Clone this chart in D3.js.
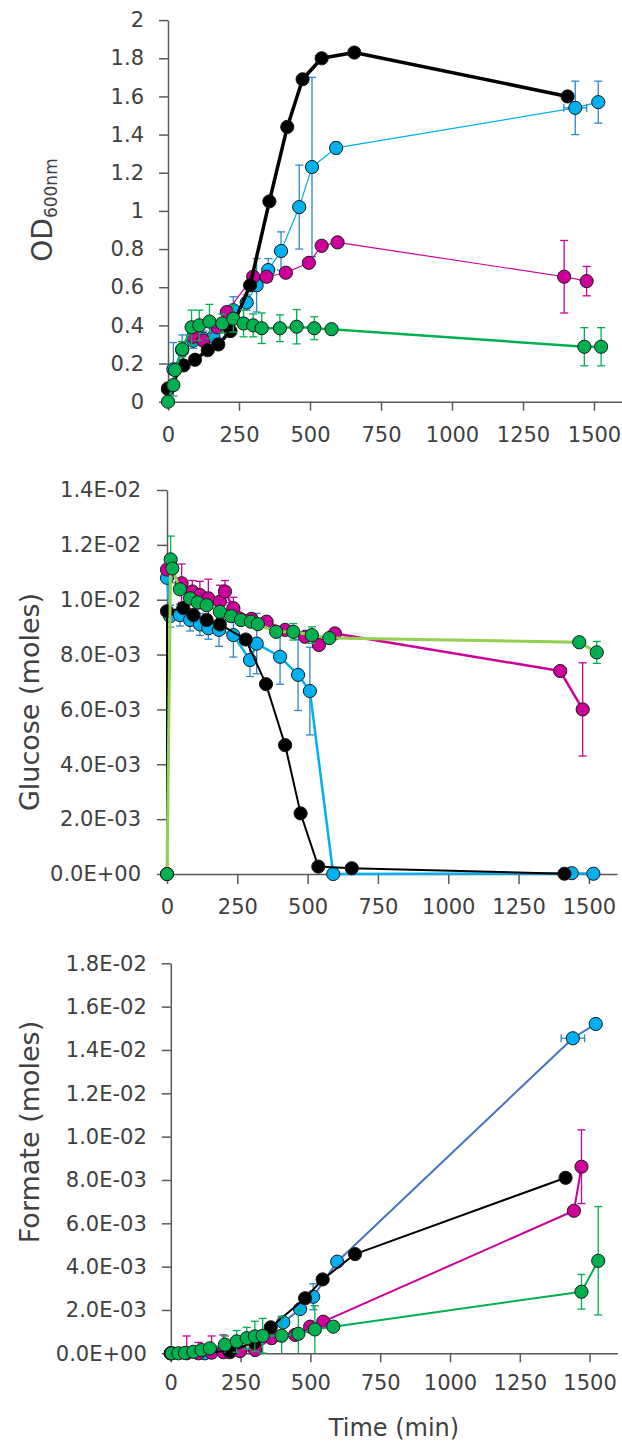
<!DOCTYPE html>
<html>
<head>
<meta charset="utf-8">
<script src="https://cdn.jsdelivr.net/npm/d3@7"></script>
<style>
  body { margin: 0; background: #fff; }
  svg { display: block; }
  text { font-family: "DejaVu Sans", sans-serif; fill: #404040; }
</style>
</head>
<body>
<svg width="622" height="1441"></svg>
<script>
// ---------- axes ----------
const timeTicks = [0, 250, 500, 750, 1000, 1250, 1500];

const odTicks = [0, 0.2, 0.4, 0.6, 0.8, 1, 1.2, 1.4, 1.6, 1.8, 2];
const odTickLabels = ['0', '0.2', '0.4', '0.6', '0.8', '1', '1.2', '1.4', '1.6', '1.8', '2'];

const glucoseTicks = [0, 0.002, 0.004, 0.006, 0.008, 0.010, 0.012, 0.014];
const glucoseTickLabels = ['0.0E+00', '2.0E-03', '4.0E-03', '6.0E-03', '8.0E-03', '1.0E-02', '1.2E-02', '1.4E-02'];

const formateTicks = [0, 0.002, 0.004, 0.006, 0.008, 0.010, 0.012, 0.014, 0.016, 0.018];
const formateTickLabels = ['0.0E+00', '2.0E-03', '4.0E-03', '6.0E-03', '8.0E-03', '1.0E-02', '1.2E-02', '1.4E-02', '1.6E-02', '1.8E-02'];

// ---------- OD600 ----------
const odBlackTime = [0, 55, 95, 140, 177, 220, 289, 357, 420, 474, 541, 656, 1407];
const odBlack = [0.07, 0.19, 0.22, 0.27, 0.30, 0.37, 0.61, 1.05, 1.44, 1.69, 1.80, 1.83, 1.60];

const odCyanTime = [19, 50, 89, 125, 160, 230, 277, 312, 353, 398, 462, 507, 592, 1434, 1515];
const odCyan = [0.17, 0.27, 0.32, 0.33, 0.34, 0.48, 0.52, 0.61, 0.69, 0.79, 1.02, 1.23, 1.33, 1.54, 1.57];
const odCyanErr = [0.14, 0.08, 0.04, 0.04, 0.04, 0.07, 0.04, 0.14, 0.06, 0.1, 0.22, 0.47, 0.03, 0.14, 0.11];
const odCyanTimeErr = [0, 0, 0, 0, 0, 0, 0, 0, 0, 0, 0, 0, 0, 40, 0];

const odMagentaTime = [0, 89, 124, 175, 207, 300, 347, 415, 496, 541, 597, 1395, 1474];
const odMagenta = [0.065, 0.34, 0.32, 0.39, 0.47, 0.655, 0.655, 0.676, 0.728, 0.817, 0.835, 0.655, 0.632];
const odMagentaErr = [0, 0, 0, 0, 0, 0, 0, 0, 0, 0, 0, 0.19, 0.077];

const odGreenTime = [0, 19, 25, 50, 83, 110, 146, 191, 230, 266, 300, 330, 394, 453, 515, 576, 1466, 1525];
const odGreen = [0, 0.087, 0.166, 0.275, 0.39, 0.40, 0.42, 0.41, 0.435, 0.41, 0.40, 0.385, 0.385, 0.393, 0.385, 0.38, 0.288, 0.288];
const odGreenErr = [0, 0, 0, 0.04, 0.09, 0.08, 0.09, 0.05, 0.07, 0.07, 0.06, 0.08, 0.07, 0.09, 0.06, 0, 0.1, 0.1];

// ---------- glucose ----------
const gluBlackTime = [0, 0, 58, 94, 141, 188, 280, 352, 420, 475, 538, 657, 1413];
const gluBlack = [0, 0.00958, 0.0097, 0.00944, 0.00926, 0.0091, 0.00855, 0.00692, 0.0047, 0.00221, 0.00027, 0.00021, 0.00001];

const gluCyanTime = [0, 11, 46, 82, 117, 147, 185, 236, 295, 319, 402, 466, 508, 591, 1439, 1516];
const gluCyan = [0.0108, 0.0094, 0.00944, 0.00926, 0.0091, 0.00896, 0.0089, 0.00871, 0.0078, 0.0084, 0.00792, 0.00726, 0.00667, 0, 0.00003, 0.00001];
const gluCyanErr = [0, 0.0004, 0.0004, 0.0004, 0.0004, 0.0004, 0.0006, 0.0008, 0.0006, 0.0011, 0.001, 0.0013, 0.0016, 0, 0, 0];

const gluMagentaTime = [0, 52, 90, 117, 147, 188, 206, 236, 300, 354, 420, 491, 540, 597, 1398, 1478];
const gluMagenta = [0.0111, 0.0106, 0.0103, 0.01017, 0.01005, 0.00993, 0.0103, 0.00969, 0.0093, 0.0092, 0.0089, 0.00865, 0.00835, 0.00877, 0.0074, 0.006];
const gluMagentaErr = [0, 0.0007, 0.0004, 0.0005, 0.0007, 0.0006, 0.0004, 0.0004, 0, 0, 0, 0, 0, 0, 0, 0.0017];

const gluGreenTime = [0, 13, 19, 46, 82, 109, 141, 188, 228, 263, 298, 323, 388, 449, 515, 577, 1466, 1528];
const gluGreen = [0, 0.01147, 0.01114, 0.01038, 0.01005, 0.0099, 0.0098, 0.00956, 0.0094, 0.00926, 0.0092, 0.00911, 0.00883, 0.00883, 0.00871, 0.0086, 0.00845, 0.00808];
const gluGreenErr = [0, 0.00085, 0, 0, 0, 0, 0, 0, 0, 0, 0, 0, 0, 0.0003, 0.0003, 0, 0, 0.0004];

// ---------- formate ----------
const forBlackTime = [0, 212, 300, 358, 481, 544, 660, 1414];
const forBlack = [0, 0.0001, 0.0005, 0.0012, 0.00254, 0.00341, 0.00458, 0.0081];

const forCyanTime = [0, 122, 403, 463, 510, 596, 1440, 1522];
const forCyan = [0, 0, 0.00143, 0.00204, 0.00261, 0.00423, 0.01454, 0.0152];
const forCyanErr = [0, 0, 0, 0, 0.0006, 0, 0, 0];
const forCyanTimeErr = [0, 0, 0, 0, 0, 0, 42, 0];

const forMagentaTime = [0, 57, 99, 146, 188, 212, 248, 302, 361, 445, 499, 546, 1444, 1471];
const forMagenta = [0, 0, 0, 0.00003, 0.00005, 0.00005, 0.0001, 0.00015, 0.0007, 0.00085, 0.00123, 0.00146, 0.00658, 0.00861];
const forMagentaErr = [0, 0.0008, 0.0005, 0.00077, 0.0008, 0.0003, 0.0002, 0.0002, 0, 0, 0, 0, 0, 0.0017];

const forGreenTime = [3, 27, 51, 81, 110, 140, 194, 236, 272, 301, 329, 397, 457, 516, 582, 1471, 1531];
const forGreen = [0, 0, 0.00002, 0.00007, 0.00015, 0.00023, 0.0004, 0.00055, 0.0007, 0.00078, 0.00081, 0.00081, 0.0009, 0.0011, 0.00123, 0.00284, 0.00427];
const forGreenErr = [0, 0, 0, 0, 0, 0, 0.0004, 0.0005, 0.0005, 0.0007, 0.0008, 0.0009, 0.0011, 0.0011, 0, 0.0008, 0.0025];

// ---------- colours ----------
const CYAN = '#00B0F0';
const CYAN_ERR = '#2E86C8';
const MAGENTA = '#CC0099';
const GREEN = '#00B050';
const LIGHT_GREEN = '#92D050';
const BLUE_LINE = '#4472C4';

const svg = d3.select('svg');

const series = (time, value, fill, line, lineWidth, errColor, err, timeErr) =>
  ({ time, value, fill, line, lineWidth, errColor, err, timeErr });

const panels = [
  {
    left: 168, right: 622.4, bottom: 401.7, top: 20.1, yMax: 2,
    ticks: odTicks, labels: odTickLabels, tick: 9, yPad: 15, xPad: 16,
    series: [
      series(odCyanTime, odCyan, CYAN, CYAN, 1.2, CYAN_ERR, odCyanErr, odCyanTimeErr),
      series(odMagentaTime, odMagenta, MAGENTA, MAGENTA, 1.2, MAGENTA, odMagentaErr),
      series(odBlackTime, odBlack, '#000', '#000', 3.5),
      series(odGreenTime, odGreen, GREEN, GREEN, 2.5, GREEN, odGreenErr),
    ],
  },
  {
    left: 167, right: 617, bottom: 874, top: 490, yMax: 0.014,
    ticks: glucoseTicks, labels: glucoseTickLabels, tick: 10, yPad: 16, xPad: 15,
    series: [
      series(gluCyanTime, gluCyan, CYAN, CYAN, 2.5, CYAN_ERR, gluCyanErr),
      series(gluMagentaTime, gluMagenta, MAGENTA, MAGENTA, 2.5, MAGENTA, gluMagentaErr),
      series(gluBlackTime, gluBlack, '#000', '#000', 2),
      series(gluGreenTime, gluGreen, GREEN, LIGHT_GREEN, 3, GREEN, gluGreenErr),
    ],
  },
  {
    left: 170.8, right: 617.5, bottom: 1353.3, top: 963.3, yMax: 0.018,
    ticks: formateTicks, labels: formateTickLabels, tick: 9, yPad: 15, xPad: 13,
    series: [
      series(forCyanTime, forCyan, CYAN, BLUE_LINE, 2, CYAN_ERR, forCyanErr, forCyanTimeErr),
      series(forMagentaTime, forMagenta, MAGENTA, MAGENTA, 2, MAGENTA, forMagentaErr),
      series(forBlackTime, forBlack, '#000', '#000', 2),
      series(forGreenTime, forGreen, GREEN, GREEN, 2, GREEN, forGreenErr),
    ],
  },
];

const styleAxis = sel => {
  sel.select('.domain').attr('stroke', '#595959').attr('stroke-width', 1.5);
  sel.selectAll('.tick line').attr('stroke', '#595959').attr('stroke-width', 1.5);
  sel.selectAll('.tick text')
    .style('font-family', '"DejaVu Sans", sans-serif')
    .style('font-size', '21px')
    .attr('fill', '#3a3a3a');
};

function drawSeries(g, x, y, s) {
  const pts = s.time.map((t, i) => ({
    t,
    v: s.value[i],
    e: s.err ? s.err[i] : 0,
    te: s.timeErr ? s.timeErr[i] : 0,
  }));

  const eb = g.append('g')
    .attr('stroke', s.errColor || s.line)
    .attr('stroke-width', 1.3)
    .attr('fill', 'none');
  const cap = 4;
  pts.filter(d => d.e > 0).forEach(d => {
    const cx = x(d.t);
    const lo = Math.max(0, d.v - d.e);
    eb.append('line').attr('x1', cx).attr('x2', cx).attr('y1', y(lo)).attr('y2', y(d.v + d.e));
    eb.append('line').attr('x1', cx - cap).attr('x2', cx + cap).attr('y1', y(d.v + d.e)).attr('y2', y(d.v + d.e));
    if (d.v - d.e > 0) {
      eb.append('line').attr('x1', cx - cap).attr('x2', cx + cap).attr('y1', y(lo)).attr('y2', y(lo));
    }
  });
  pts.filter(d => d.te > 0).forEach(d => {
    const cy = y(d.v);
    eb.append('line').attr('x1', x(d.t - d.te)).attr('x2', x(d.t + d.te)).attr('y1', cy).attr('y2', cy);
    [d.t - d.te, d.t + d.te].forEach(tt => {
      eb.append('line').attr('x1', x(tt)).attr('x2', x(tt)).attr('y1', cy - cap).attr('y2', cy + cap);
    });
  });

  const line = d3.line().x(d => x(d.t)).y(d => y(d.v));
  g.append('path')
    .datum(pts)
    .attr('d', line)
    .attr('fill', 'none')
    .attr('stroke', s.line)
    .attr('stroke-width', s.lineWidth)
    .attr('stroke-linejoin', 'round');

  g.append('g').selectAll('circle')
    .data(pts)
    .join('circle')
    .attr('cx', d => x(d.t))
    .attr('cy', d => y(d.v))
    .attr('r', 6.6)
    .attr('fill', s.fill)
    .attr('stroke', '#1a1a1a')
    .attr('stroke-width', 1);
}

function drawPanel(p) {
  const x = d3.scaleLinear().domain([0, 1600]).range([p.left, p.right]);
  const y = d3.scaleLinear().domain([0, p.yMax]).range([p.bottom, p.top]);
  const g = svg.append('g');

  g.append('g')
    .attr('transform', `translate(0,${p.bottom})`)
    .call(d3.axisBottom(x).tickValues(timeTicks).tickSize(p.tick).tickSizeOuter(0)
      .tickPadding(p.xPad).tickFormat(d3.format('d')))
    .call(styleAxis);

  g.append('g')
    .attr('transform', `translate(${p.left},0)`)
    .call(d3.axisLeft(y).tickValues(p.ticks).tickSize(p.tick).tickSizeOuter(0)
      .tickPadding(p.yPad).tickFormat((d, i) => p.labels[i]))
    .call(styleAxis);

  p.series.forEach(s => drawSeries(g, x, y, s));
}

panels.forEach(drawPanel);

// axis titles
const odTitle = svg.append('text')
  .attr('transform', 'translate(52,210) rotate(-90)')
  .attr('text-anchor', 'middle')
  .style('font-size', '28px')
  .attr('fill', '#262626');
odTitle.append('tspan').text('OD');
odTitle.append('tspan').attr('dy', 5).style('font-size', '17px').text('600nm');

svg.append('text')
  .attr('transform', 'translate(39,702) rotate(-90)')
  .attr('text-anchor', 'middle')
  .style('font-size', '27px')
  .attr('fill', '#262626')
  .text('Glucose (moles)');

svg.append('text')
  .attr('transform', 'translate(39,1132) rotate(-90)')
  .attr('text-anchor', 'middle')
  .style('font-size', '27px')
  .attr('fill', '#262626')
  .text('Formate (moles)');

svg.append('text')
  .attr('x', 394)
  .attr('y', 1436)
  .attr('text-anchor', 'middle')
  .style('font-size', '24px')
  .attr('fill', '#262626')
  .text('Time (min)');
</script>
</body>
</html>
